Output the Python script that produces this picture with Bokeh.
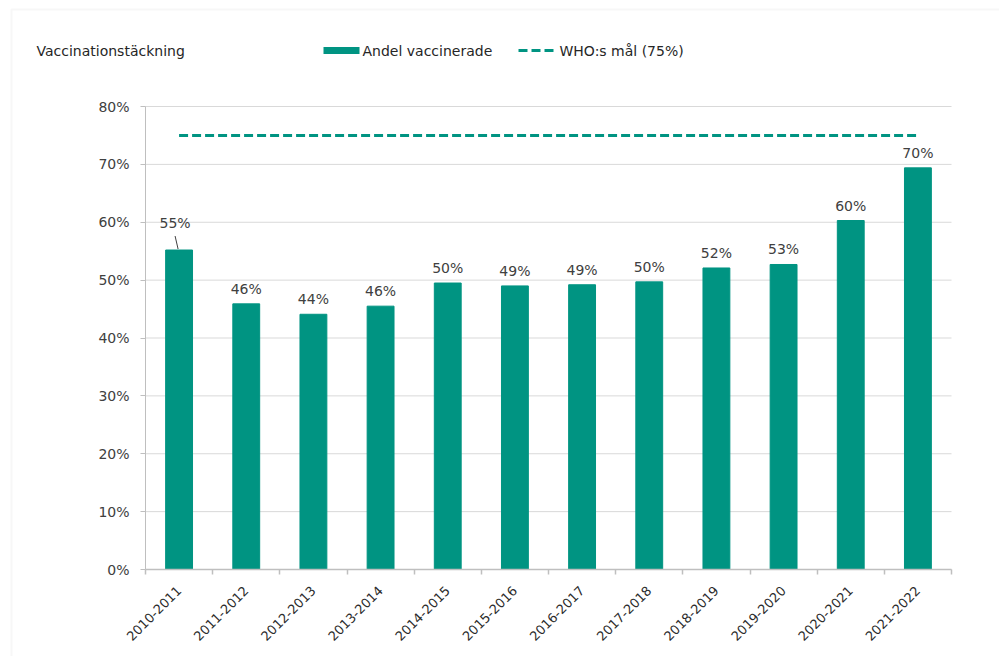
from bokeh.plotting import figure
from bokeh.models import (ColumnDataSource, Range1d, FixedTicker, LinearAxis,
                          PrintfTickFormatter, CustomJSTickFormatter, Label, LabelSet,
                          BoxAnnotation)
from bokeh.core.properties import value
from bokeh.embed import file_html
from bokeh.resources import INLINE

# ---- data ----
seasons = ["2010-2011", "2011-2012", "2012-2013", "2013-2014", "2014-2015", "2015-2016",
           "2016-2017", "2017-2018", "2018-2019", "2019-2020", "2020-2021", "2021-2022"]
coverage = [55.2, 45.9, 44.1, 45.5, 49.5, 49.0, 49.2, 49.7, 52.1, 52.7, 60.3, 69.4]
bar_labels = ["55%", "46%", "44%", "46%", "50%", "49%", "49%", "50%", "52%", "53%", "60%", "70%"]
who_target = 75
y_ticks = [0, 10, 20, 30, 40, 50, 60, 70, 80]
axis_title = "Vaccinationstäckning"
legend_bar = "Andel vaccinerade"
legend_line = "WHO:s mål (75%)"

# ---- layout / styling constants ----
W, H = 999, 656
AX_LEFT_PX = 145          # page x of the value axis
AX_RIGHT_PX = 951         # page x of the end of the category axis
ZERO_PX = 569             # page y of 0%
PX_PER_PCT = 463 / 80     # pixels per percentage point
TEAL = "#009482"
TXT = "#404040"
DARK = "#262626"
AXC = "#bfbfbf"
GRIDC = "#d9d9d9"
FONT = "DejaVu Sans"

n = len(seasons)
CAT_W = (AX_RIGHT_PX - AX_LEFT_PX) / n

def fx(px):
    return (px - AX_LEFT_PX) / CAT_W

def fy(py):
    return (ZERO_PX - py) / PX_PER_PCT

p = figure(x_range=Range1d(fx(0), fx(W)), y_range=Range1d(fy(H), fy(0)),
           width=W, height=H, min_border=0,
           x_axis_location=None, y_axis_location=None,
           output_backend="svg", toolbar_location=None)
p.outline_line_color = None
p.background_fill_color = "white"
p.border_fill_color = "white"
p.xgrid.visible = False
p.ygrid.visible = False

centers = [i + 0.5 for i in range(n)]
bounds = list(range(n + 1))

# horizontal gridlines (from the value axis to the end of the category axis)
p.segment(x0=[0] * len(y_ticks), y0=y_ticks, x1=[n] * len(y_ticks), y1=y_ticks,
          line_color=GRIDC, line_width=1)

# value axis
yaxis = LinearAxis(fixed_location=0, ticker=FixedTicker(ticks=y_ticks),
                   formatter=PrintfTickFormatter(format="%d%%"), bounds=(0, 80))
yaxis.axis_line_color = AXC
yaxis.major_tick_line_color = AXC
yaxis.major_tick_out = 5
yaxis.major_tick_in = 0
yaxis.minor_tick_line_color = None
yaxis.major_label_standoff = 11
yaxis.major_label_text_font = FONT
yaxis.major_label_text_font_size = "14px"
yaxis.major_label_text_color = TXT
p.add_layout(yaxis, "left")

# category axis: labels at centres, tick marks at category boundaries
xaxis = LinearAxis(fixed_location=0,
                   ticker=FixedTicker(ticks=centers, minor_ticks=bounds),
                   formatter=CustomJSTickFormatter(args=dict(labels=seasons),
                                                   code="return labels[Math.floor(tick)] || ''"),
                   bounds=(0, n))
xaxis.axis_line_color = AXC
xaxis.axis_line_width = 1.5
xaxis.major_tick_line_color = None
xaxis.major_tick_out = 5
xaxis.major_tick_in = 0
xaxis.minor_tick_line_color = AXC
xaxis.minor_tick_line_width = 1.5
xaxis.minor_tick_out = 5
xaxis.minor_tick_in = 0
xaxis.major_label_orientation = 0.785398
xaxis.major_label_standoff = 14
xaxis.major_label_text_font = FONT
xaxis.major_label_text_font_size = "13px"
xaxis.major_label_text_color = "#2b2b2b"
p.add_layout(xaxis, "below")

# bars
src = ColumnDataSource(dict(x=centers, cov=coverage, lab=bar_labels))
p.vbar(x="x", top="cov", width=0.4, bottom=0, source=src,
       fill_color=TEAL, line_color=TEAL, line_width=1)

# WHO target line
p.line(x=[centers[0], centers[-1]], y=[who_target, who_target],
       line_color=TEAL, line_width=3, line_dash="9 4")

# bar labels (the first one is raised, with a leader line)
src_lab = ColumnDataSource(dict(x=centers[1:], cov=coverage[1:], lab=bar_labels[1:]))
p.add_layout(LabelSet(x="x", y="cov", text="lab", source=src_lab,
                      y_offset=15, text_align="center", text_baseline="middle",
                      text_font=value(FONT), text_font_size="14px", text_color=TXT))
p.add_layout(Label(x=centers[0], y=coverage[0], text=bar_labels[0], x_offset=-4, y_offset=27,
                   text_align="center", text_baseline="middle",
                   text_font=FONT, text_font_size="14px", text_color=TXT))
p.segment(x0=[centers[0] - 1 / CAT_W], y0=[coverage[0] + 1 / PX_PER_PCT],
          x1=[centers[0] - 4 / CAT_W], y1=[coverage[0] + 14 / PX_PER_PCT],
          line_color=TXT, line_width=1)

# axis title
ty = fy(50)
p.add_layout(Label(x=fx(36), y=ty, text=axis_title, text_align="left",
                   text_baseline="middle", text_font=FONT, text_font_size="14px",
                   text_color=DARK))

# legend (drawn by hand, like the original's top legend)
p.rect(x=[fx((323 + 359) / 2)], y=[ty], width=36, height=7,
       width_units="screen", height_units="screen", fill_color=TEAL, line_color=None)
p.add_layout(Label(x=fx(362), y=ty, text=legend_bar, text_align="left",
                   text_baseline="middle", text_font=FONT, text_font_size="14px",
                   text_color=DARK))
p.segment(x0=[fx(518)], y0=[ty], x1=[fx(556)], y1=[ty],
          line_color=TEAL, line_width=3, line_dash="9 4")
p.add_layout(Label(x=fx(559), y=ty, text=legend_line, text_align="left",
                   text_baseline="middle", text_font=FONT, text_font_size="14px",
                   text_color=DARK))

# outer frame of the chart (top and left edges visible)
p.add_layout(BoxAnnotation(left=fx(11), right=fx(W + 20), top=fy(9), bottom=fy(H + 20),
                           fill_alpha=0, line_color="#e6e6e6", line_width=2))

open("out.html", "w").write(file_html(p, INLINE))
